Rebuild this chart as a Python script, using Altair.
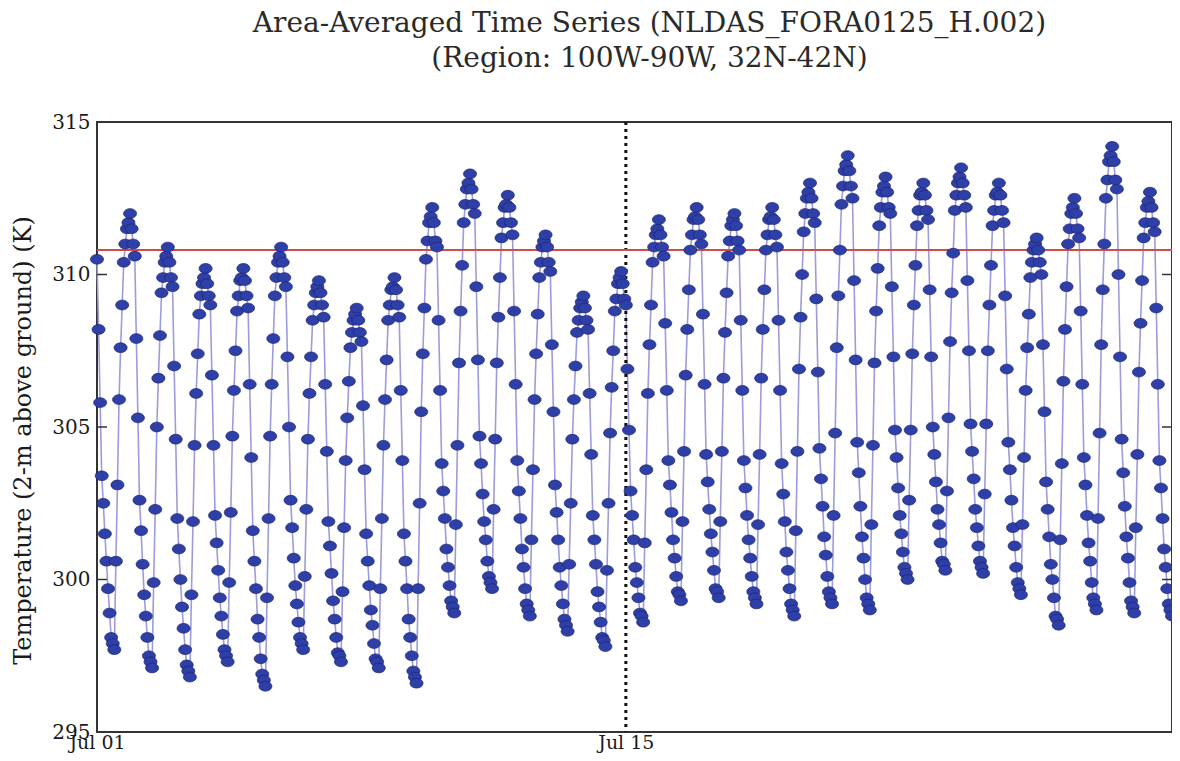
import altair as alt
import pandas as pd

# Hourly area-averaged 2-m temperature (K), 00Z..23Z per day
day01 = [310.5, 308.2, 305.8, 303.4, 302.5, 301.5, 300.6, 299.7, 298.9, 298.1, 297.9, 297.7,
         300.6, 303.1, 305.9, 307.6, 309.0, 310.4, 311.0, 311.5, 311.7, 312.0, 311.5, 311.0]
day02 = [310.6, 307.9, 305.3, 302.6, 301.6, 300.5, 299.5, 298.8, 298.1, 297.5, 297.3, 297.1,
         299.9, 302.3, 305.0, 306.6, 308.0, 309.4, 309.9, 310.4, 310.6, 310.9, 310.4, 309.9]
day03 = [309.6, 307.0, 304.6, 302.0, 301.0, 300.0, 299.1, 298.4, 297.7, 297.2, 297.0, 296.8,
         299.5, 301.9, 304.4, 306.1, 307.4, 308.7, 309.3, 309.7, 309.9, 310.2, 309.7, 309.3]
day04 = [309.0, 306.7, 304.4, 302.1, 301.2, 300.3, 299.4, 298.8, 298.2, 297.7, 297.5, 297.3,
         299.9, 302.2, 304.7, 306.2, 307.5, 308.8, 309.3, 309.8, 309.9, 310.2, 309.8, 309.3]
day05 = [308.9, 306.4, 304.0, 301.6, 300.6, 299.7, 298.7, 298.1, 297.4, 296.9, 296.7, 296.5,
         299.4, 302.0, 304.7, 306.4, 307.9, 309.3, 309.9, 310.4, 310.6, 310.9, 310.4, 309.9]
day06 = [309.6, 307.3, 305.0, 302.6, 301.7, 300.7, 299.8, 299.2, 298.6, 298.1, 297.9, 297.7,
         300.1, 302.3, 304.6, 306.1, 307.3, 308.5, 309.0, 309.4, 309.6, 309.8, 309.4, 309.0]
day07 = [308.6, 306.4, 304.2, 301.9, 301.1, 300.2, 299.3, 298.7, 298.1, 297.6, 297.5, 297.3,
         299.6, 301.7, 303.9, 305.3, 306.5, 307.6, 308.1, 308.5, 308.7, 308.9, 308.5, 308.1]
day08 = [307.8, 305.7, 303.6, 301.5, 300.6, 299.8, 299.0, 298.5, 297.9, 297.4, 297.3, 297.1,
         299.7, 302.0, 304.4, 305.9, 307.2, 308.5, 309.0, 309.5, 309.6, 309.9, 309.5, 309.0]
day09 = [308.6, 306.2, 303.9, 301.5, 300.6, 299.7, 298.7, 298.1, 297.5, 297.0, 296.8, 296.6,
         299.7, 302.5, 305.5, 307.4, 308.9, 310.5, 311.1, 311.7, 311.9, 312.2, 311.7, 311.1]
day10 = [310.9, 308.5, 306.2, 303.8, 302.9, 302.0, 301.0, 300.4, 299.8, 299.3, 299.1, 298.9,
         301.8, 304.4, 307.1, 308.8, 310.3, 311.7, 312.3, 312.8, 313.0, 313.3, 312.8, 312.3]
day11 = [312.0, 309.6, 307.2, 304.7, 303.8, 302.8, 301.9, 301.3, 300.6, 300.1, 299.9, 299.7,
         302.3, 304.6, 307.1, 308.6, 309.9, 311.2, 311.7, 312.2, 312.3, 312.6, 312.2, 311.7]
day12 = [311.3, 308.8, 306.4, 303.9, 302.9, 302.0, 301.0, 300.4, 299.7, 299.2, 299.0, 298.8,
         301.3, 303.6, 305.9, 307.4, 308.7, 309.9, 310.4, 310.9, 311.1, 311.3, 310.9, 310.4]
day13 = [310.1, 307.7, 305.5, 303.1, 302.2, 301.3, 300.4, 299.8, 299.2, 298.7, 298.5, 298.3,
         300.5, 302.5, 304.6, 305.9, 307.0, 308.1, 308.5, 308.9, 309.1, 309.3, 308.9, 308.5]
day14 = [308.2, 306.1, 304.1, 302.1, 301.3, 300.5, 299.6, 299.1, 298.6, 298.1, 298.0, 297.8,
         300.3, 302.5, 304.8, 306.3, 307.5, 308.8, 309.2, 309.7, 309.9, 310.1, 309.7, 309.2]
day15 = [309.0, 306.9, 304.9, 302.9, 302.1, 301.3, 300.4, 299.9, 299.4, 298.9, 298.8, 298.6,
         301.2, 303.6, 306.1, 307.7, 309.0, 310.4, 310.9, 311.3, 311.5, 311.8, 311.3, 310.9]
day16 = [310.6, 308.4, 306.2, 303.9, 303.1, 302.2, 301.3, 300.7, 300.1, 299.6, 299.5, 299.3,
         301.9, 304.2, 306.7, 308.2, 309.5, 310.8, 311.3, 311.8, 311.9, 312.2, 311.8, 311.3]
day17 = [311.0, 308.7, 306.4, 304.1, 303.2, 302.3, 301.5, 300.9, 300.3, 299.7, 299.6, 299.4,
         301.9, 304.2, 306.6, 308.1, 309.4, 310.6, 311.1, 311.6, 311.8, 312.0, 311.6, 311.1]
day18 = [310.8, 308.5, 306.2, 303.9, 303.0, 302.1, 301.3, 300.7, 300.1, 299.6, 299.4, 299.2,
         301.8, 304.1, 306.6, 308.2, 309.5, 310.8, 311.3, 311.8, 311.9, 312.2, 311.8, 311.3]
day19 = [310.9, 308.5, 306.2, 303.8, 302.8, 301.9, 300.9, 300.3, 299.7, 299.2, 299.0, 298.8,
         301.6, 304.2, 306.9, 308.6, 310.0, 311.4, 312.0, 312.5, 312.7, 313.0, 312.5, 312.0]
day20 = [311.7, 309.2, 306.8, 304.3, 303.3, 302.4, 301.4, 300.8, 300.1, 299.6, 299.4, 299.2,
         302.1, 304.8, 307.6, 309.3, 310.8, 312.3, 312.9, 313.4, 313.6, 313.9, 313.4, 312.9]
day21 = [312.5, 309.8, 307.2, 304.5, 303.5, 302.4, 301.4, 300.7, 300.0, 299.4, 299.2, 299.0,
         301.8, 304.4, 307.1, 308.8, 310.2, 311.6, 312.2, 312.7, 312.9, 313.2, 312.7, 312.2]
day22 = [312.0, 309.6, 307.3, 304.9, 304.0, 303.0, 302.1, 301.5, 300.9, 300.4, 300.2, 300.0,
         302.6, 304.9, 307.4, 309.0, 310.3, 311.6, 312.1, 312.6, 312.7, 313.0, 312.6, 312.1]
day23 = [311.8, 309.5, 307.3, 305.0, 304.1, 303.2, 302.3, 301.8, 301.2, 300.6, 300.5, 300.3,
         302.9, 305.3, 307.8, 309.4, 310.7, 312.1, 312.6, 313.0, 313.2, 313.5, 313.0, 312.6]
day24 = [312.2, 309.8, 307.5, 305.1, 304.2, 303.3, 302.3, 301.7, 301.1, 300.6, 300.4, 300.2,
         302.8, 305.1, 307.5, 309.0, 310.3, 311.6, 312.1, 312.6, 312.7, 313.0, 312.6, 312.1]
day25 = [311.7, 309.3, 306.9, 304.5, 303.6, 302.6, 301.7, 301.1, 300.4, 299.9, 299.7, 299.5,
         301.8, 304.0, 306.2, 307.6, 308.7, 309.9, 310.4, 310.8, 311.0, 311.2, 310.8, 310.4]
day26 = [310.0, 307.7, 305.5, 303.2, 302.3, 301.4, 300.5, 300.0, 299.4, 298.8, 298.7, 298.5,
         301.3, 303.8, 306.5, 308.2, 309.6, 311.0, 311.5, 312.0, 312.2, 312.5, 312.0, 311.5]
day27 = [311.2, 308.8, 306.4, 304.0, 303.1, 302.1, 301.2, 300.6, 299.9, 299.4, 299.2, 299.0,
         302.0, 304.8, 307.7, 309.5, 311.0, 312.5, 313.1, 313.7, 313.9, 314.2, 313.7, 313.1]
day28 = [312.8, 310.0, 307.3, 304.6, 303.5, 302.4, 301.4, 300.7, 299.9, 299.3, 299.1, 298.9,
         301.7, 304.1, 306.8, 308.4, 309.8, 311.2, 311.7, 312.2, 312.4, 312.7, 312.2, 311.7]
day29 = [311.4, 308.9, 306.4, 303.9, 303.0, 302.0, 301.0, 300.4, 299.7, 299.2, 299.0, 298.8]

threshold = [310.8]
y_ticks = [295, 300, 305, 310, 315]
inner_ticks = [300, 305, 310]
title_lines = ["Area-Averaged Time Series (NLDAS_FORA0125_H.002)",
               "(Region: 100W-90W, 32N-42N)"]
y_title = "Temperature (2-m above ground)  (K)"
marker_day = ["2012-07-15T00:00:00Z"]

days = [day01, day02, day03, day04, day05, day06, day07, day08, day09, day10,
        day11, day12, day13, day14, day15, day16, day17, day18, day19, day20,
        day21, day22, day23, day24, day25, day26, day27, day28, day29]
temps = [v for d in days for v in d]
times = pd.date_range("2012-07-01 00:00", periods=len(temps), freq="h")
df = pd.DataFrame({"time": times.strftime("%Y-%m-%dT%H:%M:%SZ"), "temp": temps})

W, H = 1075, 610
FONT = "DejaVu Serif"

xscale = alt.Scale(type="utc",
                   domain=[alt.DateTime(year=2012, month=7, date=1, hours=0, utc=True),
                           alt.DateTime(year=2012, month=7, date=29, hours=11, utc=True)])
yscale = alt.Scale(domain=[295, 315], nice=False, zero=False)

xenc = alt.X("time:T", scale=xscale, title="",
             axis=alt.Axis(values=[alt.DateTime(year=2012, month=7, date=1, utc=True),
                                   alt.DateTime(year=2012, month=7, date=15, utc=True)],
                           labelExpr="utcFormat(datum.value, '%b %d')",
                           ticks=False, domain=False,
                           grid=False, labelFont=FONT, labelFontSize=19, labelColor="#1a1a1a",
                           labelPadding=1, labelFlush=False))
yenc = alt.Y("temp:Q", scale=yscale,
             axis=alt.Axis(values=y_ticks, ticks=False, domain=False, grid=False,
                           labelFont=FONT, labelFontSize=20, labelColor="#1a1a1a",
                           labelPadding=7, title=y_title, titleFont=FONT,
                           titleFontSize=24, titleFontWeight="normal", titleColor="#1a1a1a",
                           titleX=-74, titleY=318, titleAngle=270,
                           titleAlign="center", titleBaseline="middle"))

base = alt.Chart(df)
line = base.mark_line(color="#9c9cdc", strokeWidth=1.6).encode(x=xenc, y=yenc)
ellipse = "M-1,0A1,0.75,0,1,1,1,0A1,0.75,0,1,1,-1,0Z"
pts = base.mark_point(shape=ellipse, size=169, filled=True, fill="#2f3fa8",
                      stroke="#1a2370", strokeWidth=0.7, opacity=1).encode(x="time:T", y="temp:Q")

vline = alt.Chart(pd.DataFrame({"t": marker_day})).mark_rule(
    color="#111", strokeWidth=3, strokeDash=[3, 4]).encode(x="t:T")
hline = alt.Chart(pd.DataFrame({"y": threshold})).mark_rule(
    color="#d24b4b", strokeWidth=2).encode(y="y:Q")
tick_df = pd.DataFrame({"v": inner_ticks})
lticks = alt.Chart(tick_df).mark_rule(color="#333", strokeWidth=1.5).encode(
    y="v:Q", x=alt.value(0), x2=alt.value(10))
rticks = alt.Chart(tick_df).mark_rule(color="#333", strokeWidth=1.5).encode(
    y="v:Q", x=alt.value(W - 10), x2=alt.value(W))

chart = alt.layer(line, vline, hline, lticks, rticks, pts).properties(
    width=W, height=H,
    autosize=alt.AutoSizeParams(type="none"),
    padding={"left": 89, "top": 114, "right": 0, "bottom": 21},
    title=alt.TitleParams(text=title_lines, font=FONT, fontSize=28, fontWeight="normal",
                          color="#2a2a2a", anchor="middle", frame="group", dx=15,
                          offset=39, lineHeight=35),
).configure(background="white").configure_view(stroke="#333", strokeWidth=2)

chart.save("out.html", embed_options={"renderer": "svg", "actions": False})
